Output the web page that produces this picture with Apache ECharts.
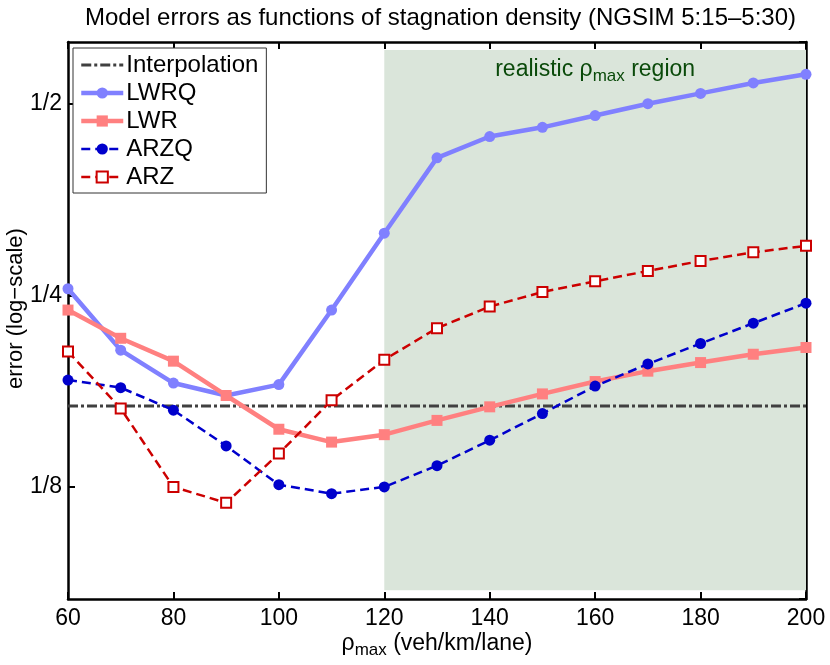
<!DOCTYPE html>
<html>
<head>
<meta charset="utf-8">
<title>Model errors</title>
<script src="https://cdn.jsdelivr.net/npm/echarts@6/dist/echarts.min.js"></script>
<style>
  html, body { margin: 0; padding: 0; background: #fff; }
  #chart { width: 830px; height: 665px; }
</style>
</head>
<body>
<div id="chart"></div>
<script>
// rho_max values (veh/km/lane)
var rhoMax = [60, 70, 80, 90, 100, 110, 120, 130, 140, 150, 160, 170, 180, 190, 200];

// errors
var lwrq = [0.256, 0.205, 0.182, 0.174, 0.181, 0.237, 0.313, 0.411, 0.444, 0.459, 0.479, 0.500, 0.519, 0.539, 0.556];
var lwr  = [0.237, 0.214, 0.197, 0.174, 0.154, 0.147, 0.151, 0.159, 0.167, 0.175, 0.183, 0.190, 0.196, 0.202, 0.207];
var arzq = [0.184, 0.179, 0.165, 0.145, 0.126, 0.122, 0.125, 0.135, 0.148, 0.163, 0.180, 0.195, 0.210, 0.226, 0.243];
var arz  = [0.204, 0.166, 0.125, 0.118, 0.141, 0.171, 0.198, 0.222, 0.240, 0.253, 0.263, 0.273, 0.283, 0.292, 0.299];
var interpolation = 0.1675;

// y ticks (powers of two) and their labels
var yTickExp = [-3, -2, -1];
var yTickLabels = ['1/8', '1/4', '1/2'];
var yMin = 1 / 12, yMax = 0.625;
var realisticRange = [120, 200];
var regionY = [0.086, 0.607];

var FONT = 'Liberation Sans, Arial, Helvetica, sans-serif';

function pairs(ys) {
    return rhoMax.map(function (x, i) { return [x, ys[i]]; });
}

function yLabel(v) {
    var e = Math.log2(v);
    for (var i = 0; i < yTickExp.length; i++) {
        if (Math.abs(e - yTickExp[i]) < 1e-6) return yTickLabels[i];
    }
    return '';
}

var chart = echarts.init(document.getElementById('chart'), null, {renderer: 'canvas'});

var option = {
    animation: false,
    backgroundColor: '#fff',
    textStyle: {fontFamily: FONT},
    title: {
        text: 'Model errors as functions of stagnation density (NGSIM 5:15\u20135:30)',
        left: 80,
        top: 1,
        textStyle: {fontFamily: FONT, fontSize: 24, fontWeight: 'normal', color: '#000'}
    },
    grid: {left: 68, right: 24, top: 42, bottom: 66, outerBoundsMode: 'none', containLabel: false},
    legend: {
        orient: 'vertical',
        left: 73,
        top: 48,
        padding: [5, 8, 4, 6],
        itemGap: 4,
        itemWidth: 42,
        itemHeight: 14,
        backgroundColor: '#fff',
        borderColor: '#333',
        borderWidth: 1,
        borderRadius: 0,
        textStyle: {fontFamily: FONT, fontSize: 24, color: '#000', padding: [0, 0, 0, -2]},
        data: [
            {name: 'Interpolation', lineStyle: {width: 3}, itemStyle: {opacity: 0}},
            {name: 'LWRQ', lineStyle: {width: 4.5}},
            {name: 'LWR', lineStyle: {width: 4.5}},
            {name: 'ARZQ', lineStyle: {width: 2.5}},
            {name: 'ARZ', lineStyle: {width: 2.5}}
        ]
    },
    xAxis: [{
        type: 'value',
        min: 60,
        max: 200,
        interval: 20,
        position: 'bottom',
        name: '{r|\u03c1}{s|max}{r| (veh/km/lane)}',
        nameLocation: 'middle',
        nameGap: 29,
        nameMoveOverlap: false,
        nameTextStyle: {
            rich: {
                r: {fontFamily: FONT, fontSize: 23, color: '#000'},
                s: {fontFamily: FONT, fontSize: 17, color: '#000', padding: [14, 0, 0, 0]}
            }
        },
        axisLine: {lineStyle: {color: '#000', width: 2.5}},
        axisTick: {inside: true, length: 7, lineStyle: {color: '#000', width: 2}},
        axisLabel: {fontFamily: FONT, fontSize: 23, color: '#000', margin: 8},
        splitLine: {show: false}
    }, {
        type: 'value',
        min: 60,
        max: 200,
        interval: 20,
        position: 'top',
        axisLine: {lineStyle: {color: '#000', width: 2.5}},
        axisTick: {inside: true, length: 7, lineStyle: {color: '#000', width: 2}},
        axisLabel: {show: false},
        splitLine: {show: false}
    }],
    yAxis: [{
        type: 'log',
        logBase: 2,
        min: yMin,
        max: yMax,
        splitNumber: 3,
        position: 'left',
        name: 'error (log\u2212scale)',
        nameLocation: 'middle',
        nameGap: 41,
        nameMoveOverlap: false,
        nameRotate: 90,
        nameTextStyle: {fontFamily: FONT, fontSize: 22, color: '#000', padding: [0, 0, 0, 24]},
        axisLine: {lineStyle: {color: '#000', width: 2.5}},
        axisTick: {inside: true, length: 7, lineStyle: {color: '#000', width: 2}},
        axisLabel: {fontFamily: FONT, fontSize: 23, color: '#000', margin: 6, formatter: yLabel,
                    showMinLabel: false, showMaxLabel: false},
        splitLine: {show: false}
    }, {
        type: 'log',
        logBase: 2,
        min: yMin,
        max: yMax,
        splitNumber: 3,
        position: 'right',
        axisLine: {lineStyle: {color: '#000', width: 2.5}},
        axisTick: {inside: true, length: 7, lineStyle: {color: '#000', width: 2}},
        axisLabel: {show: false},
        splitLine: {show: false}
    }],
    series: [{
        name: 'region',
        type: 'line',
        z: 1,
        data: [],
        silent: true,
        markArea: {
            silent: true,
            itemStyle: {color: '#dae5da'},
            label: {
                show: true,
                position: 'insideTop',
                distance: 4,
                formatter: '{t|realistic }{r|\u03c1}{s|max}{t| region}',
                rich: {
                    t: {fontFamily: FONT, fontSize: 23, color: '#0a4a0a'},
                    r: {fontFamily: FONT, fontSize: 23, color: '#0a4a0a'},
                    s: {fontFamily: FONT, fontSize: 17, color: '#0a4a0a', padding: [14, 0, 0, 0]}
                }
            },
            data: [[
                {coord: [realisticRange[0], regionY[1]]},
                {coord: [realisticRange[1], regionY[0]]}
            ]]
        }
    }, {
        name: 'Interpolation',
        type: 'line',
        z: 3,
        data: [[rhoMax[0], interpolation], [rhoMax[rhoMax.length - 1], interpolation]],
        symbol: 'none',
        itemStyle: {color: '#404040'},
        lineStyle: {color: '#404040', width: 3, type: [10, 3, 3, 3]}
    }, {
        name: 'LWRQ',
        type: 'line',
        z: 4,
        data: pairs(lwrq),
        symbol: 'circle',
        symbolSize: 11,
        itemStyle: {color: '#8080ff'},
        lineStyle: {color: '#8080ff', width: 4.5}
    }, {
        name: 'LWR',
        type: 'line',
        z: 4,
        data: pairs(lwr),
        symbol: 'rect',
        symbolSize: 11,
        itemStyle: {color: '#ff8080'},
        lineStyle: {color: '#ff8080', width: 4.5}
    }, {
        name: 'ARZQ',
        type: 'line',
        z: 5,
        data: pairs(arzq),
        symbol: 'circle',
        symbolSize: 11,
        itemStyle: {color: '#0000cc'},
        lineStyle: {color: '#0000cc', width: 2.5, type: [9, 5]}
    }, {
        name: 'ARZ',
        type: 'line',
        z: 5,
        data: pairs(arz),
        symbol: 'emptyRect',
        symbolSize: 10,
        itemStyle: {color: '#cc0000', borderColor: '#cc0000', borderWidth: 2},
        lineStyle: {color: '#cc0000', width: 2.5, type: [9, 5]}
    }]
};

chart.setOption(option);
</script>
</body>
</html>
